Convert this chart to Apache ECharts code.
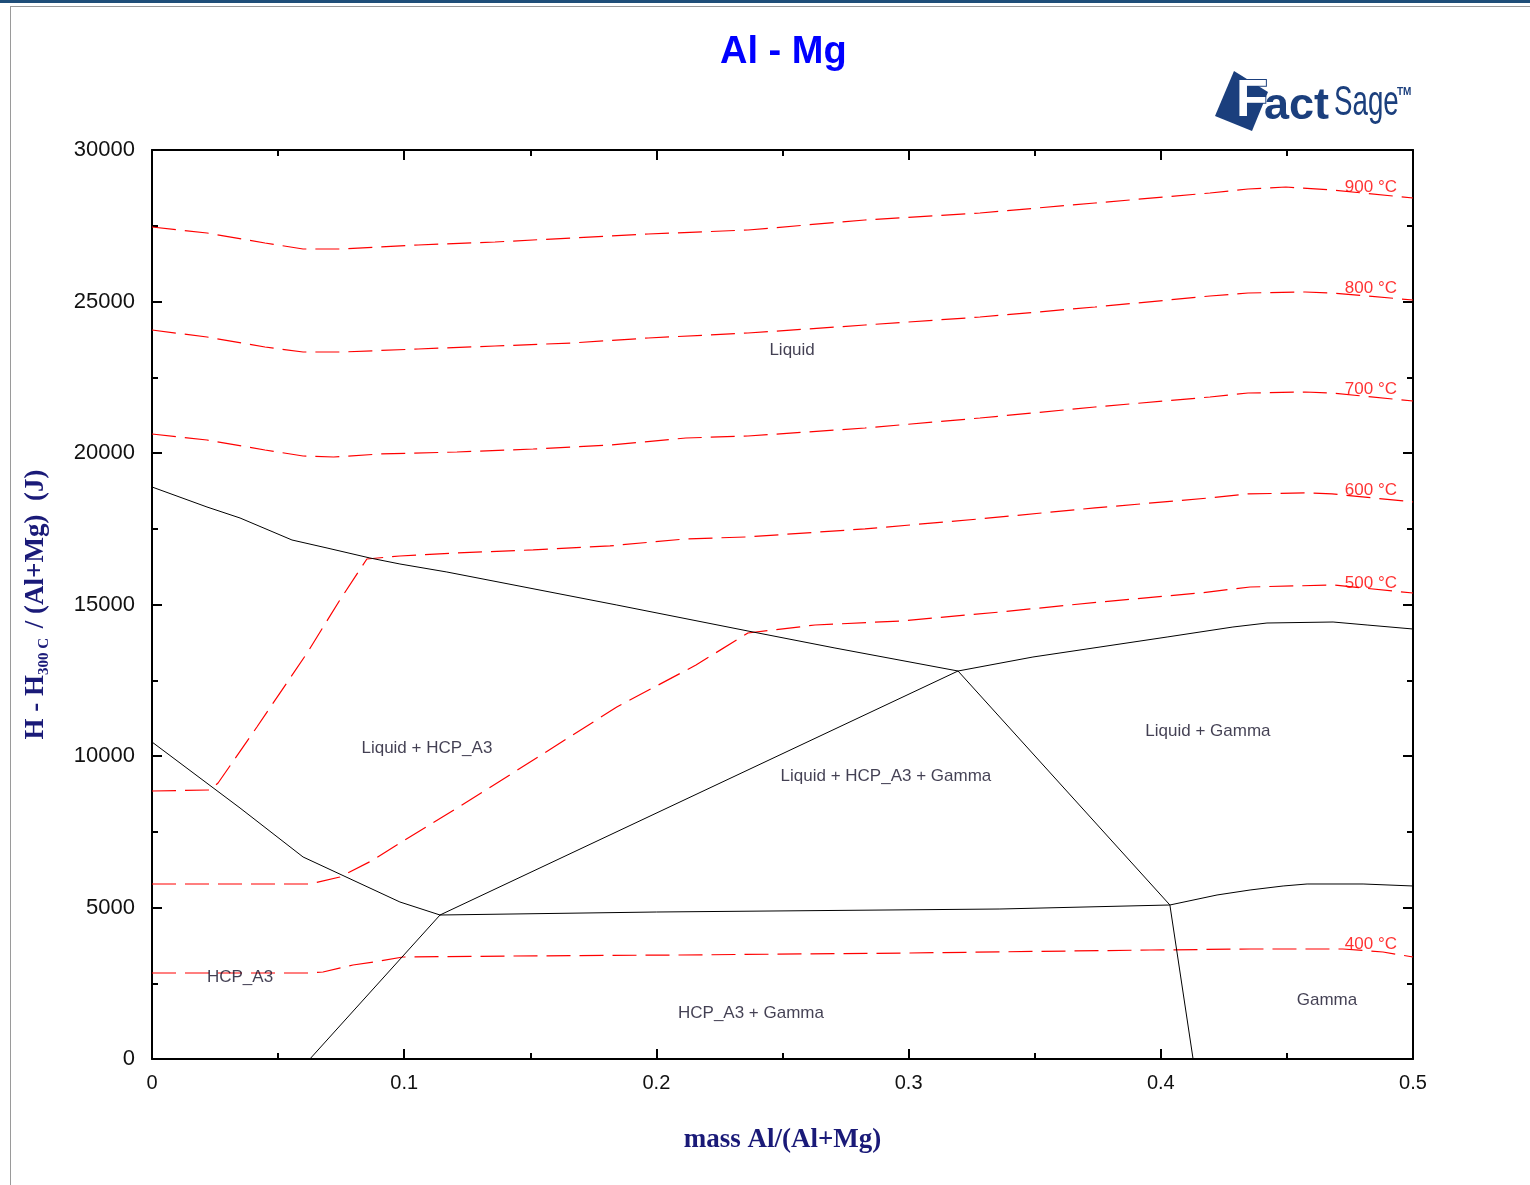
<!DOCTYPE html>
<html>
<head>
<meta charset="utf-8">
<title>Al - Mg</title>
<script src="https://cdn.jsdelivr.net/npm/echarts@6/dist/echarts.min.js"></script>
<style>
  html, body { margin: 0; padding: 0; background: #fff; }
  #chart { width: 1530px; height: 1185px; }
</style>
</head>
<body>
<div id="chart"></div>
<script>
// phase boundaries: [mass Al/(Al+Mg), H - H(300 C) in J]
const liquidusHcp = [[0, 18878], [0.0218, 18218], [0.0349, 17855], [0.0555, 17129], [0.0694, 16865],
  [0.0864, 16535], [0.0983, 16337], [0.1169, 16073], [0.1843, 14983], [0.2363, 14125], [0.2708, 13564], [0.3196, 12805]];
const solidusHcp = [[0, 10462], [0.0349, 8284], [0.0599, 6667], [0.0983, 5182], [0.1142, 4752]];
const solvusHcp = [[0.0626, 0], [0.1142, 4752]];
const threePhaseLow = [[0.1142, 4752], [0.3196, 12805]];
const eutecticLine = [[0.1142, 4752], [0.2, 4851], [0.3362, 4950], [0.4036, 5083]];
const gammaLiquidSide = [[0.3196, 12805], [0.4036, 5083]];
const solvusGamma = [[0.4036, 5083], [0.4128, 0]];
const liquidusGamma = [[0.3196, 12805], [0.3493, 13267], [0.3759, 13597], [0.4025, 13927], [0.4286, 14257],
  [0.4421, 14389], [0.4683, 14422], [0.4818, 14323], [0.5, 14191]];
const solidusGamma = [[0.4036, 5083], [0.4223, 5413], [0.4354, 5578], [0.4485, 5710], [0.458, 5776],
  [0.4802, 5776], [0.5, 5710]];

// isotherms
const iso900 = [[0, 27459], [0.0218, 27261], [0.0448, 26931], [0.0599, 26733], [0.0753, 26733], [0.1055, 26865],
  [0.136, 26964], [0.1661, 27096], [0.1967, 27228], [0.2363, 27360], [0.2827, 27690], [0.3283, 27921],
  [0.3739, 28251], [0.4195, 28581], [0.4346, 28713], [0.4496, 28779], [0.4679, 28680], [0.5, 28416]];
const iso800 = [[0, 24059], [0.0218, 23828], [0.0448, 23498], [0.0599, 23333], [0.0753, 23333], [0.1055, 23432],
  [0.136, 23531], [0.1661, 23630], [0.1967, 23795], [0.2363, 23960], [0.2827, 24224], [0.3283, 24488],
  [0.3739, 24818], [0.4195, 25182], [0.4346, 25281], [0.4572, 25314], [0.4679, 25281], [0.5, 25050]];
const iso700 = [[0, 20627], [0.0218, 20429], [0.0448, 20099], [0.0599, 19901], [0.072, 19868], [0.0904, 19967],
  [0.1209, 20033], [0.1511, 20132], [0.1816, 20264], [0.2117, 20495], [0.2363, 20561], [0.2827, 20825],
  [0.3283, 21155], [0.3739, 21518], [0.4195, 21848], [0.4346, 21980], [0.4572, 22013], [0.4679, 21980], [0.5, 21716]];
const iso600 = [[0, 8845], [0.023, 8878], [0.0262, 9109], [0.0416, 10957], [0.0615, 13399], [0.0745, 15149],
  [0.0852, 16502], [0.0983, 16601], [0.1209, 16703], [0.1511, 16802], [0.1816, 16934], [0.2117, 17165],
  [0.2363, 17231], [0.2827, 17495], [0.3283, 17825], [0.3739, 18188], [0.4195, 18518], [0.4346, 18650],
  [0.4572, 18683], [0.4679, 18650], [0.5, 18386]];
const iso500 = [[0, 5776], [0.0626, 5776], [0.0745, 6007], [0.0877, 6568], [0.0983, 7129], [0.1217, 8317],
  [0.1531, 9967], [0.1843, 11617], [0.2157, 13003], [0.2363, 14059], [0.2629, 14323], [0.2965, 14455],
  [0.3362, 14752], [0.3759, 15083], [0.4155, 15380], [0.4354, 15578], [0.4683, 15644], [0.5, 15380]];
const iso400 = [[0, 2838], [0.0626, 2838], [0.0678, 2871], [0.0797, 3102], [0.0904, 3234], [0.0995, 3366],
  [0.1431, 3399], [0.2093, 3432], [0.3, 3498], [0.3957, 3597], [0.4354, 3630], [0.4722, 3630],
  [0.4881, 3531], [0.5, 3366]];

const isoLabels = [[0.4833, 28779, '900 °C'], [0.4833, 25446, '800 °C'], [0.4833, 22112, '700 °C'],
  [0.4833, 18779, '600 °C'], [0.4833, 15710, '500 °C'], [0.4833, 3795, '400 °C']];
const regionLabels = [[0.2538, 23399, 'Liquid'], [0.109, 10264, 'Liquid + HCP_A3'],
  [0.291, 9340, 'Liquid + HCP_A3 + Gamma'], [0.4187, 10825, 'Liquid + Gamma'],
  [0.0349, 2706, 'HCP_A3'], [0.2375, 1518, 'HCP_A3 + Gamma'], [0.4659, 1947, 'Gamma']];

const boundaries = [liquidusHcp, solidusHcp, solvusHcp, threePhaseLow, eutecticLine,
  gammaLiquidSide, solvusGamma, liquidusGamma, solidusGamma];
const isotherms = [iso900, iso800, iso700, iso600, iso500, iso400];

const chart = echarts.init(document.getElementById('chart'));
const sans = 'Liberation Sans, Arial, sans-serif';
const serif = 'Liberation Serif, Times New Roman, serif';
const navy = '#1a1a78';
const logoBlue = '#1b3f7d';

const series = [];
boundaries.forEach((d) => {
  series.push({
    type: 'line', data: d, showSymbol: false, silent: true, z: 3,
    lineStyle: { color: '#000', width: 1 },
  });
});
isotherms.forEach((d) => {
  series.push({
    type: 'line', data: d, showSymbol: false, silent: true, z: 2,
    lineStyle: { color: '#ff0000', width: 1.2, type: [24, 9] },
  });
});
series.push({
  type: 'scatter', silent: true, symbolSize: 0, z: 4,
  data: isoLabels.map((d) => ({ value: [d[0], d[1]], name: d[2] })),
  label: { show: true, position: 'inside', formatter: (p) => p.name, color: '#ff0000', fontFamily: sans, fontSize: 17 },
});
series.push({
  type: 'scatter', silent: true, symbolSize: 0, z: 4,
  data: regionLabels.map((d) => ({ value: [d[0], d[1]], name: d[2] })),
  label: { show: true, position: 'inside', formatter: (p) => p.name, color: '#141028', fontFamily: sans, fontSize: 17 },
});

const tickStyle = {
  axisLine: { show: true, onZero: false, lineStyle: { color: '#000', width: 2 } },
  axisTick: { show: true, inside: true, length: 10, lineStyle: { color: '#000', width: 2 } },
  minorTick: { show: true, splitNumber: 2, length: 6, lineStyle: { color: '#000', width: 2 } },
  splitLine: { show: false },
};

const option = {
  animation: false,
  backgroundColor: '#fff',
  title: {
    text: 'Al - Mg', left: 715, top: 29,
    textStyle: { color: '#0000ff', fontFamily: sans, fontWeight: 'bold', fontSize: 38 },
  },
  grid: { left: 152, right: 117, top: 150, bottom: 126 },
  xAxis: [
    Object.assign({
      type: 'value', position: 'bottom', min: 0, max: 0.5, interval: 0.1,
      name: 'mass Al/(Al+Mg)', nameLocation: 'middle', nameGap: 68,
      nameTextStyle: { color: navy, fontFamily: serif, fontWeight: 'bold', fontSize: 27 },
      axisLabel: { color: '#111', fontFamily: sans, fontSize: 20, margin: 14,
        formatter: (v) => (v === 0 ? '0' : v.toFixed(1)) },
    }, tickStyle),
    Object.assign({
      type: 'value', position: 'top', min: 0, max: 0.5, interval: 0.1, axisLabel: { show: false },
    }, tickStyle),
  ],
  yAxis: [
    Object.assign({
      type: 'value', position: 'left', min: 0, max: 30000, interval: 5000,
      name: '{a|H - H}{b|300 C}{a| / (Al+Mg)  (J)}', nameLocation: 'middle', nameGap: 100, nameRotate: 90,
      nameTextStyle: {
        rich: {
          a: { color: navy, fontFamily: serif, fontWeight: 'bold', fontSize: 27, lineHeight: 32, verticalAlign: 'middle' },
          b: { color: navy, fontFamily: serif, fontWeight: 'bold', fontSize: 15, lineHeight: 32, verticalAlign: 'bottom', padding: [0, 3, 0, 0] },
        },
      },
      axisLabel: { color: '#111', fontFamily: sans, fontSize: 22, margin: 17, formatter: (v) => String(v) },
    }, tickStyle),
    Object.assign({
      type: 'value', position: 'right', min: 0, max: 30000, interval: 5000, axisLabel: { show: false },
    }, tickStyle),
  ],
  series: series,
  graphic: [
    { type: 'rect', shape: { x: 0, y: 0, width: 1530, height: 3 }, style: { fill: '#1f4e79' }, silent: true },
    { type: 'rect', shape: { x: 10, y: 6, width: 1520, height: 1 }, style: { fill: '#9a9a9a' }, silent: true },
    { type: 'rect', shape: { x: 10, y: 6, width: 1, height: 1179 }, style: { fill: '#9a9a9a' }, silent: true },
    // FactSage logo
    { type: 'polygon', shape: { points: [[1234, 71], [1268, 92], [1252, 131], [1215, 116]] },
      style: { fill: logoBlue }, silent: true },
    { type: 'text', x: 1236, y: 76, silent: true,
      style: { text: 'F', fill: '#fff', stroke: logoBlue, lineWidth: 2, font: 'bold 52px ' + sans } },
    { type: 'text', x: 1264, y: 84, silent: true,
      style: { text: 'act', fill: logoBlue, font: 'bold 45px ' + sans } },
    { type: 'text', x: 1334, y: 82, scaleX: 0.66, silent: true,
      style: { text: 'Sage', fill: logoBlue, font: '42px ' + sans } },
    { type: 'text', x: 1397, y: 87, silent: true,
      style: { text: 'TM', fill: logoBlue, font: 'bold 10px ' + sans } },
  ],
};

chart.setOption(option);
</script>
</body>
</html>
